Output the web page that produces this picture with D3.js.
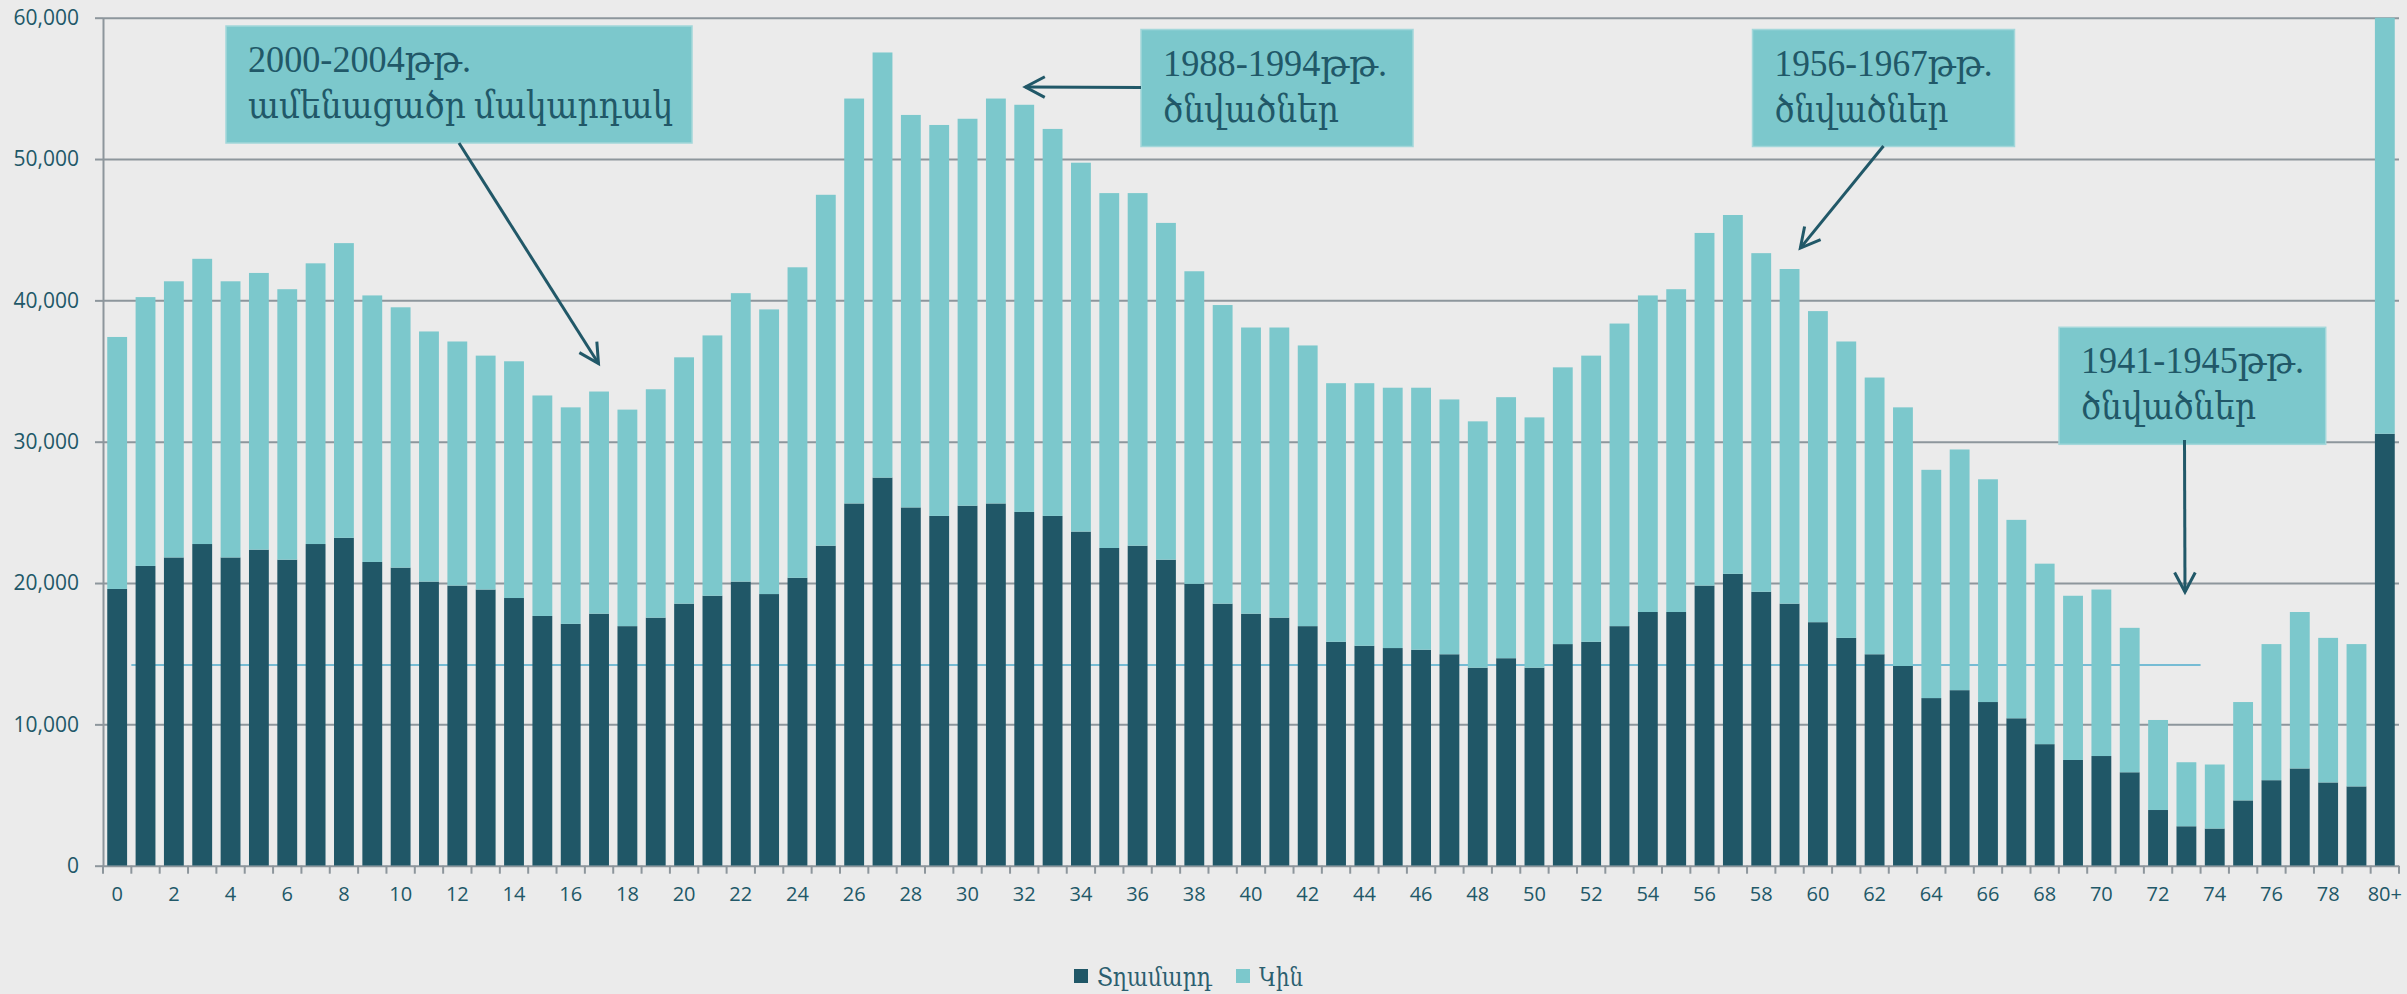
<!DOCTYPE html>
<html>
<head>
<meta charset="utf-8">
<script src="https://cdn.jsdelivr.net/npm/d3@7"></script>
<style>
  body { margin: 0; background: #ebebeb; }
  svg { display: block; }
  .axis text { font-family: "Open Sans", "DejaVu Sans", sans-serif; fill: #215868; }
  .serif { font-family: "Liberation Serif", "DejaVu Serif", serif; }
</style>
</head>
<body>
<div id="chart"></div>
<script>
// age groups
var ages = d3.range(80).map(String).concat(["80+"]);

// men
var male = [19580, 21210, 21810, 22760, 21810, 22360, 21650, 22760, 23200, 21490,
  21090, 20100, 19820, 19540, 18940, 17670, 17110, 17830, 16950, 17550,
  18540, 19100, 20100, 19220, 20370, 22640, 25630, 27460, 25350, 24750,
  25470, 25630, 25030, 24750, 23640, 22480, 22640, 21650, 19940, 18540,
  17830, 17550, 16950, 15840, 15560, 15400, 15280, 14960, 14010, 14680,
  14010, 15680, 15840, 16950, 17950, 17950, 19820, 20650, 19380, 18540,
  17230, 16120, 14960, 14130, 11860, 12420, 11580, 10430, 8600, 7480,
  7760, 6610, 3940, 2790, 2630, 4620, 6050, 6880, 5890, 5610,
  30560];

// women
var female = [17830, 19020, 19540, 20180, 19540, 19580, 19140, 19860, 20850, 18860,
  18420, 17700, 17270, 16550, 16750, 15600, 15320, 15720, 15320, 16160,
  17430, 18420, 20410, 20140, 21970, 24830, 28650, 30080, 27770, 27660,
  27380, 28650, 28810, 27380, 26100, 25110, 24950, 23830, 22120, 21130,
  20250, 20530, 19860, 18300, 18580, 18420, 18540, 18030, 17430, 18470,
  17710, 19580, 20250, 21410, 22400, 22840, 24950, 25390, 23960, 23680,
  22010, 20970, 19580, 18300, 16150, 17030, 15760, 14040, 12770, 11620,
  11780, 10220, 6370, 4530, 4530, 6960, 9630, 11070, 10230, 10070,
  31500];

var seriesNames = ["Տղամարդ", "Կին"];
var yTicks = [0, 10000, 20000, 30000, 40000, 50000, 60000];
var refValue = 14200;   // thin blue line behind the bars

var svgWidth = 2407;
var svgHeight = 994;
var plot = { left: 103, right: 2399, top: 17.7, bottom: 865.7 };

var colors = { male: "#205767", female: "#7cc8cc", grid: "#8d969c", text: "#215868" };

var svg = d3.select("#chart")
  .append("svg")
  .attr("width", svgWidth)
  .attr("height", svgHeight);

svg.append("rect")
  .attr("width", svgWidth)
  .attr("height", svgHeight)
  .attr("fill", "#ebebeb");

var x = d3.scaleBand()
  .domain(ages)
  .range([plot.left, plot.right])
  .paddingInner(0.3)
  .paddingOuter(0.15);

var y = d3.scaleLinear()
  .domain([0, 60000])
  .range([plot.bottom, plot.top]);

// band edge position for a fractional index
function edge(i) {
  return plot.left + i * x.step();
}

// gridlines
svg.append("g")
  .attr("transform", `translate(${plot.left}, 0)`)
  .call(d3.axisLeft(y).tickValues(yTicks).tickSize(-(plot.right - plot.left)).tickFormat(""))
  .call(g => g.select(".domain").remove())
  .call(g => g.selectAll("line").attr("stroke", colors.grid).attr("stroke-width", 2));

// y axis
var yAxis = svg.append("g")
  .attr("class", "axis")
  .attr("transform", `translate(${plot.left}, 0)`)
  .call(d3.axisLeft(y).tickValues(yTicks).tickSize(8).tickSizeOuter(0).tickPadding(16).tickFormat(d3.format(",")));
yAxis.select(".domain").attr("stroke", colors.grid).attr("stroke-width", 2);
yAxis.selectAll("line").attr("stroke", colors.grid).attr("stroke-width", 2);
yAxis.selectAll("text").attr("font-size", 21);

// reference line from band 1 to band 74
svg.append("line")
  .attr("x1", edge(1))
  .attr("x2", edge(74))
  .attr("y1", y(refValue))
  .attr("y2", y(refValue))
  .attr("stroke", "#76bcd4")
  .attr("stroke-width", 2);

// bars
svg.append("clipPath")
  .attr("id", "plotClip")
  .append("rect")
  .attr("x", plot.left)
  .attr("y", plot.top)
  .attr("width", plot.right - plot.left)
  .attr("height", plot.bottom - plot.top);

var rows = ages.map((a, i) => ({ age: a, male: male[i], female: female[i] }));
var stacked = d3.stack().keys(["male", "female"])(rows);

svg.append("g")
  .attr("clip-path", "url(#plotClip)")
  .selectAll("g")
  .data(stacked)
  .enter()
  .append("g")
  .attr("fill", d => colors[d.key])
  .selectAll("rect")
  .data(d => d)
  .enter()
  .append("rect")
  .attr("x", d => x(d.data.age))
  .attr("width", x.bandwidth())
  .attr("y", d => y(d[1]))
  .attr("height", d => y(d[0]) - y(d[1]));

// x axis ticks on band edges
svg.append("g")
  .selectAll("line")
  .data(d3.range(ages.length + 1))
  .enter()
  .append("line")
  .attr("x1", d => edge(d))
  .attr("x2", d => edge(d))
  .attr("y1", plot.bottom)
  .attr("y2", plot.bottom + 8)
  .attr("stroke", colors.grid)
  .attr("stroke-width", 2);

var xAxis = svg.append("g")
  .attr("class", "axis")
  .attr("transform", `translate(0, ${plot.bottom})`)
  .call(d3.axisBottom(x).tickValues(ages.filter((d, i) => i % 2 === 0)).tickSize(0).tickPadding(21));
xAxis.select(".domain").remove();
xAxis.selectAll("text").attr("font-size", 20);

// annotations
var notes = [
  { lines: ["2000-2004թթ.", "ամենացածր մակարդակ"], box: [226, 26, 692, 143], widths: [223, 425], from: [459, 143], tip: [17.48, 35530] },
  { lines: ["1988-1994թթ.", "ծնվածներ"], box: [1141, 29.5, 1413, 146.5], widths: [224, 176], from: [1141, 87.5], tip: [32.54, 55100] },
  { lines: ["1956-1967թթ.", "ծնվածներ"], box: [1752.5, 29.5, 2014.5, 146.5], widths: [218, 174], from: [1883.5, 146], tip: [59.88, 43700] },
  { lines: ["1941-1945թթ.", "ծնվածներ"], box: [2059, 327.3, 2325.7, 444.3], widths: [223, 175], from: [2184.5, 440], tip: [73.45, 19370] }
];

var annGroup = svg.append("g");

notes.forEach(function(n) {
  var b = n.box;
  annGroup.append("rect")
    .attr("x", b[0])
    .attr("y", b[1])
    .attr("width", b[2] - b[0])
    .attr("height", b[3] - b[1])
    .attr("fill", colors.female)
    .attr("stroke", "#a3d7da")
    .attr("stroke-width", 1.5);

  n.lines.forEach(function(t, k) {
    annGroup.append("text")
      .attr("class", "serif")
      .attr("x", b[0] + 22)
      .attr("y", b[1] + 46 + k * 46)
      .attr("font-size", 38)
      .attr("fill", colors.text)
      .attr("textLength", n.widths[k])
      .attr("lengthAdjust", "spacingAndGlyphs")
      .text(t);
  });

  // arrow
  var tx = edge(n.tip[0]), ty = y(n.tip[1]);
  var fx = n.from[0], fy = n.from[1];
  var len = Math.hypot(fx - tx, fy - ty);
  var ux = (fx - tx) / len, uy = (fy - ty) / len;
  var a = 28 * Math.PI / 180, h = 22;
  var w1 = [tx + h * (ux * Math.cos(a) - uy * Math.sin(a)), ty + h * (ux * Math.sin(a) + uy * Math.cos(a))];
  var w2 = [tx + h * (ux * Math.cos(-a) - uy * Math.sin(-a)), ty + h * (ux * Math.sin(-a) + uy * Math.cos(-a))];

  annGroup.append("line")
    .attr("x1", fx).attr("y1", fy)
    .attr("x2", tx).attr("y2", ty)
    .attr("stroke", colors.text)
    .attr("stroke-width", 3);

  annGroup.append("path")
    .attr("d", `M${w1[0]},${w1[1]}L${tx},${ty}L${w2[0]},${w2[1]}`)
    .attr("fill", "none")
    .attr("stroke", colors.text)
    .attr("stroke-width", 3);
});

// legend
var legend = svg.append("g");
var legendItems = [
  { name: seriesNames[0], color: colors.male, x: 1074, w: 115 },
  { name: seriesNames[1], color: colors.female, x: 1236, w: 44 }
];
legendItems.forEach(function(d) {
  legend.append("rect")
    .attr("x", d.x)
    .attr("y", 969)
    .attr("width", 14)
    .attr("height", 14)
    .attr("fill", d.color);
  legend.append("text")
    .attr("class", "serif")
    .attr("x", d.x + 23)
    .attr("y", 986)
    .attr("font-size", 26)
    .attr("fill", "#2b5f70")
    .attr("textLength", d.w)
    .attr("lengthAdjust", "spacingAndGlyphs")
    .text(d.name);
});
</script>
</body>
</html>
